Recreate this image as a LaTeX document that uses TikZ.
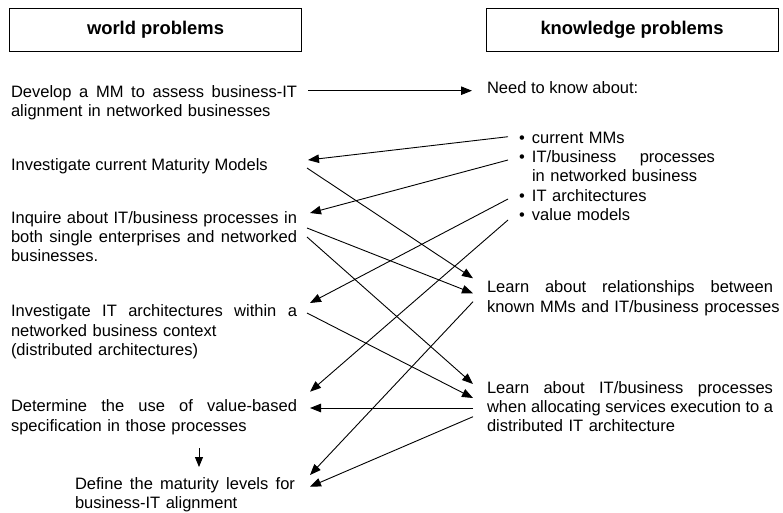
\documentclass[tikz,border=0pt]{standalone}
\usepackage{fontspec}
\setmainfont{Liberation Sans}
\usetikzlibrary{arrows.meta}
% a line set to a given width, its interword spaces spread evenly
\newcommand{\jline}[2]{\leavevmode\hbox to #1{\spaceskip=0.278em plus 1fil\relax #2}}
\begin{document}
\begin{tikzpicture}[x=1pt,y=-1pt,
  every node/.style={inner sep=0pt,outer sep=0pt},
  body/.style={anchor=base west,align=left,font=\fontsize{16.5}{19.4}\selectfont},
  head/.style={draw,line width=0.9pt,minimum width=292pt,minimum height=43pt,
    font=\fontsize{18.4}{22}\selectfont\bfseries},
  conn/.style={line width=0.9pt,-{Triangle[length=11pt,width=8.5pt]}}]
\useasboundingbox (0,0) rectangle (783,512);

% column headings
\node[head] (world) at (155.5,29.7) {world problems};
\node[head] (know) at (632,29.7) {knowledge problems};

% world problems
\node[body,text width=290pt] (dev) at (11,97)
  {\jline{286pt}{Develop a MM to assess business-IT}\\alignment in networked businesses};
\node[body] (inv) at (11,170) {Investigate current Maturity Models};
\node[body,text width=290pt] (inq) at (11,223)
  {\jline{286pt}{Inquire about IT/business processes in}\\
   \jline{286pt}{both single enterprises and networked}\\businesses.};
\node[body,text width=290pt] (arch) at (11,316.7)
  {\jline{286pt}{Investigate IT architectures within a}\\
   networked business context\\(distributed architectures)};
\node[body,text width=290pt] (det) at (11,411.7)
  {\jline{286pt}{Determine the use of value-based}\\specification in those processes};
\node[body,text width=224pt] (def) at (75,489)
  {\jline{220pt}{Define the maturity levels for}\\business-IT alignment};

% knowledge problems
\node[body] (need) at (487,93) {Need to know about:};
\node[body,text width=220pt] (items) at (519,143)
  {\makebox[13pt][l]{•}current MMs\\
   \makebox[13pt][l]{•}\jline{183pt}{IT/business processes}\\
   \hspace*{13pt}in networked business\\
   \makebox[13pt][l]{•}IT architectures\\
   \makebox[13pt][l]{•}value models};
\node[body,text width=296pt] (rel) at (487,292.7)
  {\jline{286pt}{Learn about relationships between}\\known MMs and IT/business processes};
\node[body,text width=296pt] (alloc) at (487,393)
  {\jline{286pt}{Learn about IT/business processes}\\
   \jline{286pt}{when allocating services execution to a}\\distributed IT architecture};

% connector end points
\coordinate (devR)   at (308,90.7);
\coordinate (needL)  at (472,90.7);
\coordinate (mmL)    at (508,136.7);
\coordinate (invR)   at (308,160);
\coordinate (procL)  at (508,160);
\coordinate (inqR)   at (310,213);
\coordinate (itL)    at (508,199);
\coordinate (archR)  at (310,303);
\coordinate (valL)   at (508,220);
\coordinate (detR)   at (310,391.7);
\coordinate (invS)   at (307,168);
\coordinate (relA)   at (473,278.3);
\coordinate (inqS)   at (307,228);
\coordinate (relB)   at (473,293.3);
\coordinate (inqT)   at (307,237);
\coordinate (allocA) at (473,384);
\coordinate (archS)  at (307,313);
\coordinate (allocB) at (473,398);
\coordinate (relS)   at (473,301.7);
\coordinate (defA)   at (310,475);
\coordinate (allocS) at (473,408);
\coordinate (detH)   at (310,408);
\coordinate (allocT) at (473,416.7);
\coordinate (defB)   at (310,486.7);
\coordinate (detD)   at (199,448);
\coordinate (defU)   at (199,467);

\draw[conn] (devR) -- (needL);
\draw[conn] (mmL) -- (invR);
\draw[conn] (procL) -- (inqR);
\draw[conn] (itL) -- (archR);
\draw[conn] (valL) -- (detR);
\draw[conn] (invS) -- (relA);
\draw[conn] (inqS) -- (relB);
\draw[conn] (inqT) -- (allocA);
\draw[conn] (archS) -- (allocB);
\draw[conn] (relS) -- (defA);
\draw[conn] (allocS) -- (detH);
\draw[conn] (allocT) -- (defB);
\draw[line width=0.9pt,-{Triangle[length=10pt,width=8pt]}] (detD) -- (defU);
\end{tikzpicture}
\end{document}
